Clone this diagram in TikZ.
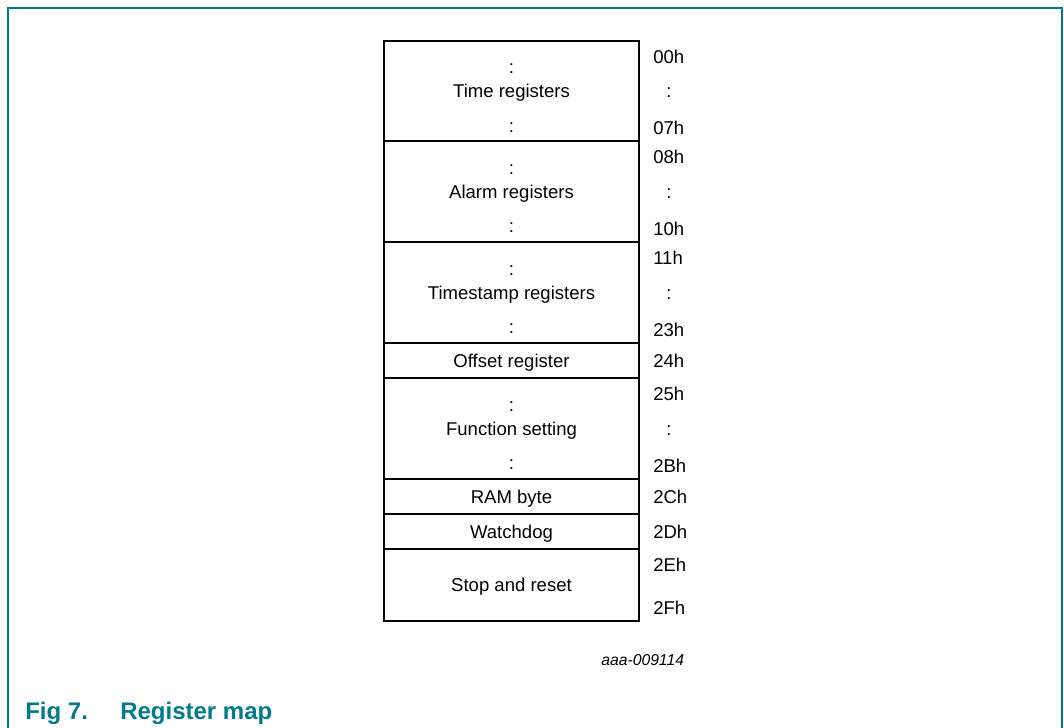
\documentclass[tikz,border=0pt]{standalone}
\usepackage{fontspec}
\setmainfont{Liberation Sans}
\usepackage{xcolor}
\usetikzlibrary{positioning}
\definecolor{figteal}{RGB}{0,121,140}
\newcommand{\regfont}{\fontsize{13.9pt}{16pt}\selectfont}
\tikzset{
    reg/.style = {rectangle, draw=black, line width=1.5pt, inner sep=0pt, outer sep=0pt,
                  minimum width=191.25pt, text height=10pt, text depth=0pt, font=\regfont},
    bigreg/.style = {reg, minimum height=75.75pt},
    smallreg/.style = {reg, minimum height=26.25pt},
    addr/.style = {anchor=base west, inner sep=0pt, font=\regfont},
    dots/.style = {anchor=base, inner sep=0pt, font=\regfont},
    frame/.style = {draw=figteal, line width=1.1pt}
}
\begin{document}
\begin{tikzpicture}[x=0.75pt,y=-0.75pt]
\useasboundingbox (0,0) rectangle (1064,728);
% figure frame, open at the bottom
\draw[frame] (8,740) -- (8,8) -- (1062,8) -- (1062,740);
% register blocks
\node [bigreg, anchor=north, minimum height=75pt] (time) at (511.5,41) {Time registers};
\node [bigreg, below=0pt of time] (alarm) {Alarm registers};
\node [bigreg, below=0pt of alarm] (tstamp) {Timestamp registers};
\node [smallreg, below=0pt of tstamp] (offset) {Offset register};
\node [bigreg, below=0pt of offset] (func) {Function setting};
\node [smallreg, below=0pt of func] (ram) {RAM byte};
\node [smallreg, below=0pt of ram] (wdog) {Watchdog};
\node [reg, minimum height=54pt, below=0pt of wdog] (stop) {Stop and reset};
% dots inside the multi-byte blocks
\foreach \r in {time,alarm,tstamp,func} {
    \path (\r.base) ++(0,-24) node[dots] (\r-up) {:};
    \path (\r.base) ++(0,34.5) node[dots] (\r-dn) {:};
    \path (\r.base -| \r.east) ++(30,0) node[dots] (\r-mid) {:};
}
% addresses
\foreach \r/\a/\b in {time/00h/07h, alarm/08h/10h, tstamp/11h/23h, func/25h/2Bh, stop/2Eh/2Fh} {
    \path (\r.north east) ++(14,22) node[addr] (\r-first) {\a};
    \path (\r.south east) ++(14,-7) node[addr] (\r-last) {\b};
}
\foreach \r/\a in {offset/24h, ram/2Ch, wdog/2Dh} {
    \path (\r.base -| \r.east) ++(14,0) node[addr] (\r-addr) {\a};
}
\node [anchor=base west, inner sep=0pt, font=\fontsize{11.8pt}{14pt}\selectfont\itshape] (figid) at (601,665) {aaa-009114};
% caption
\node [anchor=base west, inner sep=0pt, text=figteal, font=\fontsize{18pt}{21pt}\selectfont\bfseries] (fignum) at (25,719) {Fig 7.};
\node [anchor=base west, inner sep=0pt, text=figteal, font=\fontsize{18pt}{21pt}\selectfont\bfseries] (figtitle) at (120,719) {Register map};
\end{tikzpicture}
\end{document}
